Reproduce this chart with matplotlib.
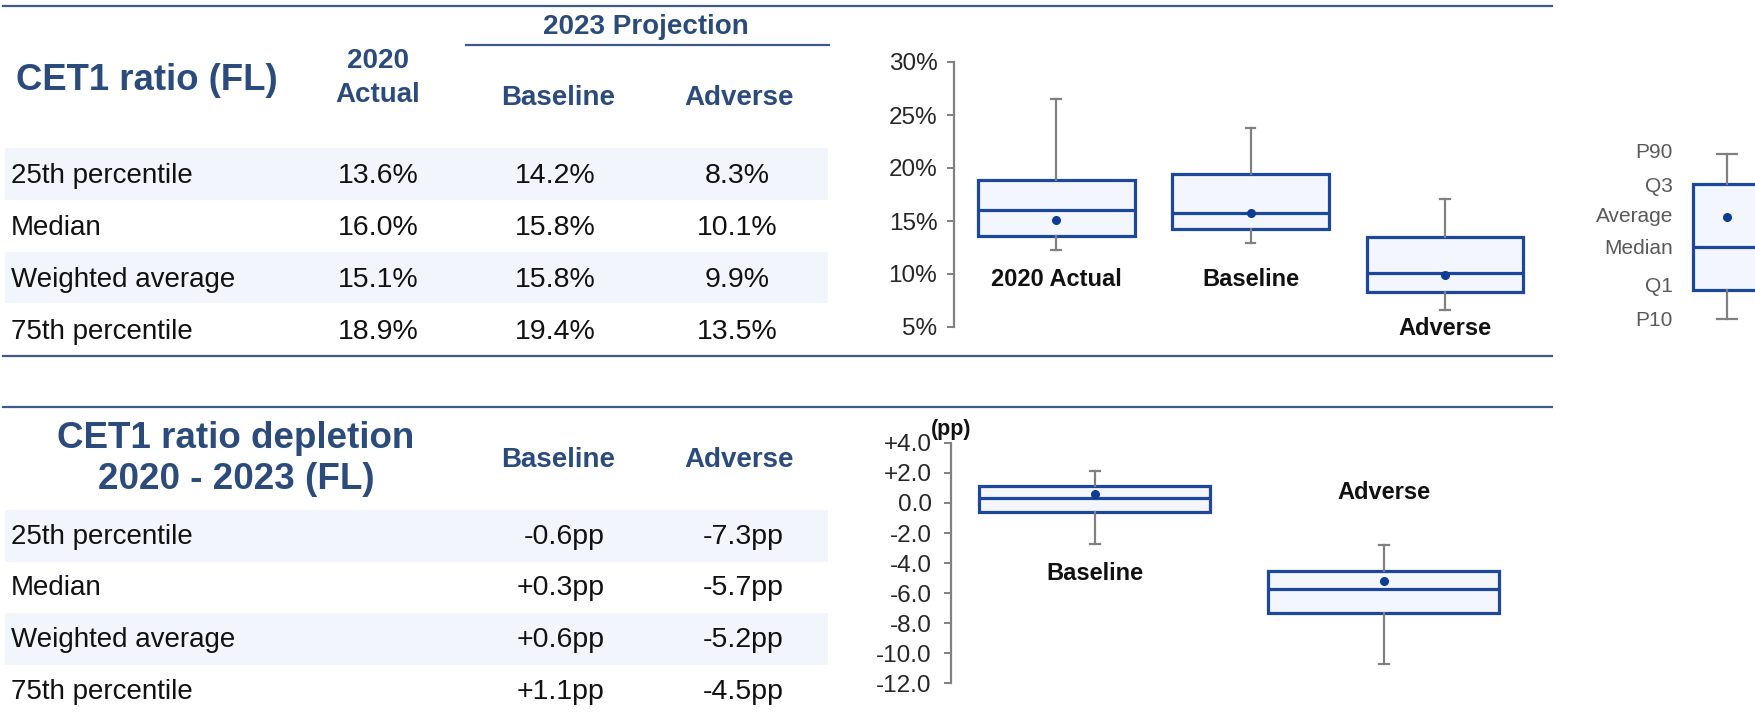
import numpy as np
import matplotlib.pyplot as plt
from matplotlib.patches import Rectangle
from matplotlib.lines import Line2D
from matplotlib.ticker import FuncFormatter

plt.rcParams['font.family'] = ['Liberation Sans', 'DejaVu Sans']

# ---- data ----
row_names = ['25th percentile', 'Median', 'Weighted average', '75th percentile']

ratio_cols = ['2020\nActual', 'Baseline', 'Adverse']
ratio_actual = [13.6, 16.0, 15.1, 18.9]
ratio_base = [14.2, 15.8, 15.8, 19.4]
ratio_adv = [8.3, 10.1, 9.9, 13.5]
ratio_box_names = ['2020 Actual', 'Baseline', 'Adverse']
ratio_p10 = [12.3, 12.9, 6.6]
ratio_p90 = [26.5, 23.8, 17.1]
ratio_ticks = [5, 10, 15, 20, 25, 30]

depl_cols = ['Baseline', 'Adverse']
depl_base = [-0.6, 0.3, 0.6, 1.1]
depl_adv = [-7.3, -5.7, -5.2, -4.5]
depl_p10 = [-2.7, -10.7]
depl_p90 = [2.1, -2.8]
depl_ticks = [4, 2, 0, -2, -4, -6, -8, -10, -12]

legend_names = ['P90', 'Q3', 'Average', 'Median', 'Q1', 'P10']
legend_vals = [16.5, 13.5, 10.2, 7.2, 2.9, 0.0]

# ---- styling ----
W, H = 1756, 713
navy = '#2a4b7c'
rule_col = '#3d5a88'
band_col = '#f2f6fc'
box_edge = '#1c479b'
box_face = '#f3f7fd'
whisk_col = '#808080'
dot_col = '#0d3c92'
ink = '#111111'

fig = plt.figure(figsize=(W / 100, H / 100), dpi=100)


def fx(x):
    return x / W


def fy(y):
    return 1 - y / H


def hline(x0, x1, y, lw=1.6, color=rule_col):
    fig.add_artist(Line2D([fx(x0), fx(x1)], [fy(y), fy(y)], color=color, lw=lw))


def band(y0, y1):
    fig.add_artist(Rectangle((fx(5), fy(y1)), fx(828) - fx(5), fy(y0) - fy(y1),
                             facecolor=band_col, edgecolor='none', zorder=0))


# ---- top table ----
hline(3, 1552, 6)
hline(3, 1552, 356)
hline(466, 829, 45)
fig.text(fx(16), fy(80), 'CET1 ratio (FL)', fontsize=26.3, fontweight='bold',
         color=navy, ha='left', va='center')
fig.text(fx(646), fy(27), '2023 Projection', fontsize=20, fontweight='bold',
         color=navy, ha='center', va='center')
col_x = [378, 555, 737]
fig.text(fx(col_x[0]), fy(78), ratio_cols[0], fontsize=20, fontweight='bold',
         color=navy, ha='center', va='center', linespacing=1.38)
fig.text(fx(558), fy(98), ratio_cols[1], fontsize=20, fontweight='bold',
         color=navy, ha='center', va='center')
fig.text(fx(739), fy(98), ratio_cols[2], fontsize=20, fontweight='bold',
         color=navy, ha='center', va='center')

band(148, 200)
band(252, 303)
row_y = [176, 228, 280, 332]
for i, name in enumerate(row_names):
    fig.text(fx(11), fy(row_y[i]), name, fontsize=20, color=ink,
             ha='left', va='center')
    for j, vals in enumerate([ratio_actual, ratio_base, ratio_adv]):
        fig.text(fx(col_x[j]), fy(row_y[i]), f'{vals[i]:.1f}%', fontsize=20.5,
                 color=ink, ha='center', va='center')

# ---- bottom table ----
hline(3, 1552, 407)
fig.text(fx(236), fy(459), 'CET1 ratio depletion\n2020 - 2023 (FL)', fontsize=26.5,
         fontweight='bold', color=navy, ha='center', va='center', linespacing=1.22)
fig.text(fx(558), fy(460), depl_cols[0], fontsize=20, fontweight='bold',
         color=navy, ha='center', va='center')
fig.text(fx(739), fy(460), depl_cols[1], fontsize=20, fontweight='bold',
         color=navy, ha='center', va='center')
band(510, 562)
band(613, 665)
row_y2 = [537, 588, 640, 692]
for i, name in enumerate(row_names):
    fig.text(fx(11), fy(row_y2[i]), name, fontsize=20, color=ink,
             ha='left', va='center')
    fig.text(fx(605), fy(row_y2[i]), f'{depl_base[i]:+.1f}pp', fontsize=20.5,
             color=ink, ha='right', va='center')
    fig.text(fx(784), fy(row_y2[i]), f'{depl_adv[i]:+.1f}pp', fontsize=20.5,
             color=ink, ha='right', va='center')


# ---- box charts ----
def style_axis(ax):
    for s in ['top', 'right', 'bottom']:
        ax.spines[s].set_visible(False)
    ax.spines['left'].set_color(whisk_col)
    ax.spines['left'].set_linewidth(1.6)
    ax.set_xticks([])
    ax.tick_params(axis='y', direction='out', length=5, width=1.4,
                   color=whisk_col, labelsize=17.5, labelcolor='#262626', pad=8)
    ax.patch.set_alpha(0)


def draw_boxes(ax, stats, positions, width, capw):
    ax.bxp(stats, positions=positions, widths=width, capwidths=capw,
           showmeans=True, patch_artist=True, manage_ticks=False,
           boxprops=dict(facecolor=box_face, edgecolor=box_edge, linewidth=2.3),
           medianprops=dict(color=box_edge, linewidth=2.3),
           whiskerprops=dict(color=whisk_col, linewidth=1.6),
           capprops=dict(color=whisk_col, linewidth=1.6),
           meanprops=dict(marker='o', markerfacecolor=dot_col,
                          markeredgecolor=dot_col, markersize=5.5))


# top chart
ax1 = fig.add_axes([fx(954), fy(327), (1542 - 954) / W, (327 - 62) / H])
stats1 = []
for k, vals in enumerate([ratio_actual, ratio_base, ratio_adv]):
    stats1.append(dict(label=ratio_box_names[k], whislo=ratio_p10[k], q1=vals[0],
                       med=vals[1], q3=vals[3], whishi=ratio_p90[k], mean=vals[2],
                       fliers=[]))
draw_boxes(ax1, stats1, [1, 2, 3], 0.807, 0.05)
ax1.set_xlim(0.475, 3.4987)
ax1.set_ylim(5, 30)
ax1.set_yticks(ratio_ticks)
ax1.yaxis.set_major_formatter(FuncFormatter(lambda v, p: f'{v:.0f}%'))
style_axis(ax1)
ax1.tick_params(axis='y', pad=7)
lab_y1 = [9.5, 9.5, 4.9]
for k, name in enumerate(ratio_box_names):
    ax1.text(k + 1, lab_y1[k], name, ha='center', va='center', fontsize=17,
             fontweight='bold', color=ink)

# bottom chart
ax2 = fig.add_axes([fx(951), fy(683), (1528 - 951) / W, (683 - 443) / H])
stats2 = []
for k, vals in enumerate([depl_base, depl_adv]):
    stats2.append(dict(label=depl_cols[k], whislo=depl_p10[k], q1=vals[0],
                       med=vals[1], q3=vals[3], whishi=depl_p90[k], mean=vals[2],
                       fliers=[]))
draw_boxes(ax2, stats2, [1, 2], 0.80, 0.035)
ax2.set_xlim(0.502, 2.5)
ax2.set_ylim(-12, 4)
ax2.set_yticks(depl_ticks)
ax2.yaxis.set_major_formatter(
    FuncFormatter(lambda v, p: '0.0' if abs(v) < 1e-9 else f'{v:+.1f}'))
style_axis(ax2)
ax2.tick_params(axis='y', pad=9)
ax2.text(0.502, 4.2, '(pp)', ha='center', va='bottom', fontsize=15.5,
         fontweight='bold', color=ink)
lab_y2 = [-4.7, 0.7]
for k, name in enumerate(depl_cols):
    ax2.text(k + 1, lab_y2[k], name, ha='center', va='center', fontsize=17,
             fontweight='bold', color=ink)

# legend box (cut by the right edge)
ax3 = fig.add_axes([fx(1680), fy(340), (W - 1680) / W, (340 - 130) / H])
leg = dict(label='', whishi=legend_vals[0], q3=legend_vals[1], mean=legend_vals[2],
           med=legend_vals[3], q1=legend_vals[4], whislo=legend_vals[5], fliers=[])
draw_boxes(ax3, [leg], [47], 68, 20)
ax3.set_xlim(0, 76)
ax3.set_ylim(-2.1, 18.9)
ax3.axis('off')
leg_lab_y = [16.6, 13.3, 10.3, 7.1, 3.3, -0.2]
for name, yv in zip(legend_names, leg_lab_y):
    ax3.text(-7, yv, name, ha='right', va='center', fontsize=15, color='#595959')

fig.savefig('out.png', dpi=100)
